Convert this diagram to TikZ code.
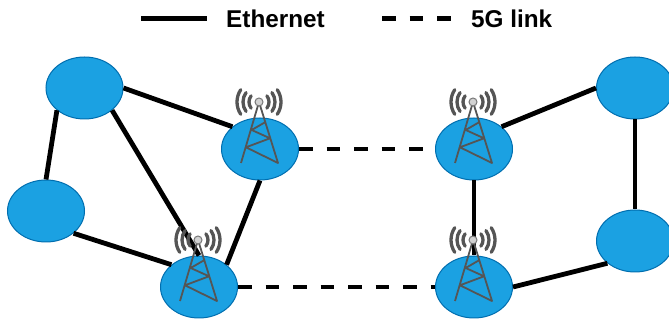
\documentclass[tikz,border=0pt]{standalone}
\usepackage{fontspec}
\setmainfont{Liberation Sans}
\usepackage{xcolor}
\usetikzlibrary{shapes.geometric}
\definecolor{routerfill}{HTML}{1BA1E2}
\definecolor{routerline}{HTML}{006EAF}
\definecolor{towergray}{HTML}{555555}

\begin{document}
\begin{tikzpicture}[
    x=1pt, y=1pt,
    router/.style={ellipse, draw=routerline, fill=routerfill, line width=1pt, minimum width=77pt, minimum height=62pt, inner sep=0pt},
    link/.style={line width=4.8pt, black},
    radio/.style={link, dash pattern=on 13.5pt off 14pt},
    legend/.style={anchor=west, inner sep=0pt, font=\fontsize{24.3}{28}\selectfont\bfseries},
    mast/.style={draw=towergray, line width=1.8pt},
    wave/.style={draw=towergray, line width=3.3pt, line cap=round},
    tower/.pic={
        \draw[mast, line join=round] (-19,-14) -- (-1,47) -- (18,-14) -- (-14,1.7) -- (10,10.7) -- (-8.3,19) -- (6,27.3);
        \foreach \r/\a in {10/38, 16/36, 22/34} {
            \draw[wave] ({-1+\r*cos(\a)},{47+\r*sin(\a)}) arc[start angle=\a, end angle=-\a, radius=\r pt];
            \draw[wave] ({-1-\r*cos(\a)},{47+\r*sin(\a)}) arc[start angle=180-\a, end angle=180+\a, radius=\r pt];
        }
        \draw[draw=towergray!80, fill=gray!35, line width=1pt] (-1,47) circle (4pt);
    }
]
    \useasboundingbox (0,0) rectangle (669,320);

    % Routers
    \node[router] (r1) at (84.5, 232) {};
    \node[router] (r2) at (46, 109) {};
    \node[router] (r3) at (260, 171) {};
    \node[router] (r4) at (199, 33) {};
    \node[router] (r5) at (474, 171) {};
    \node[router] (r6) at (474, 33) {};
    \node[router] (r7) at (635, 232) {};
    \node[router] (r8) at (635, 79) {};

    % Ethernet links
    \draw[link] (r1.east) -- (r3.north west);
    \draw[link] (r1.south west) -- (r2.north);
    \draw[link] (r1.south east) -- (r4.north);
    \draw[link] (r2.south east) -- (r4.north west);
    \draw[link] (r3.south) -- (r4.north east);
    \draw[link] (r5.south) -- (r6.north);
    \draw[link] (r5.north east) -- (r7.west);
    \draw[link] (r6.east) -- (r8.south west);
    \draw[link] (r7.south) -- (r8.north);

    % 5G links
    \draw[radio] (r3.east) -- (r5.west);
    \draw[radio] (r4.east) -- (r6.west);

    % Towers
    \foreach \n in {r3,r4,r5,r6} {
        \pic at (\n) {tower};
    }

    % Legend
    \coordinate (eth1) at (141, 301.5);
    \coordinate (eth2) at (207, 301.5);
    \coordinate (rad1) at (382, 301.5);
    \coordinate (rad2) at (452, 301.5);
    \draw[link] (eth1) -- (eth2);
    \draw[radio] (rad1) -- (rad2);
    \node[legend] (ethlabel) at (226, 301) {Ethernet};
    \node[legend] (radlabel) at (471, 301) {5G link};
\end{tikzpicture}
\end{document}
